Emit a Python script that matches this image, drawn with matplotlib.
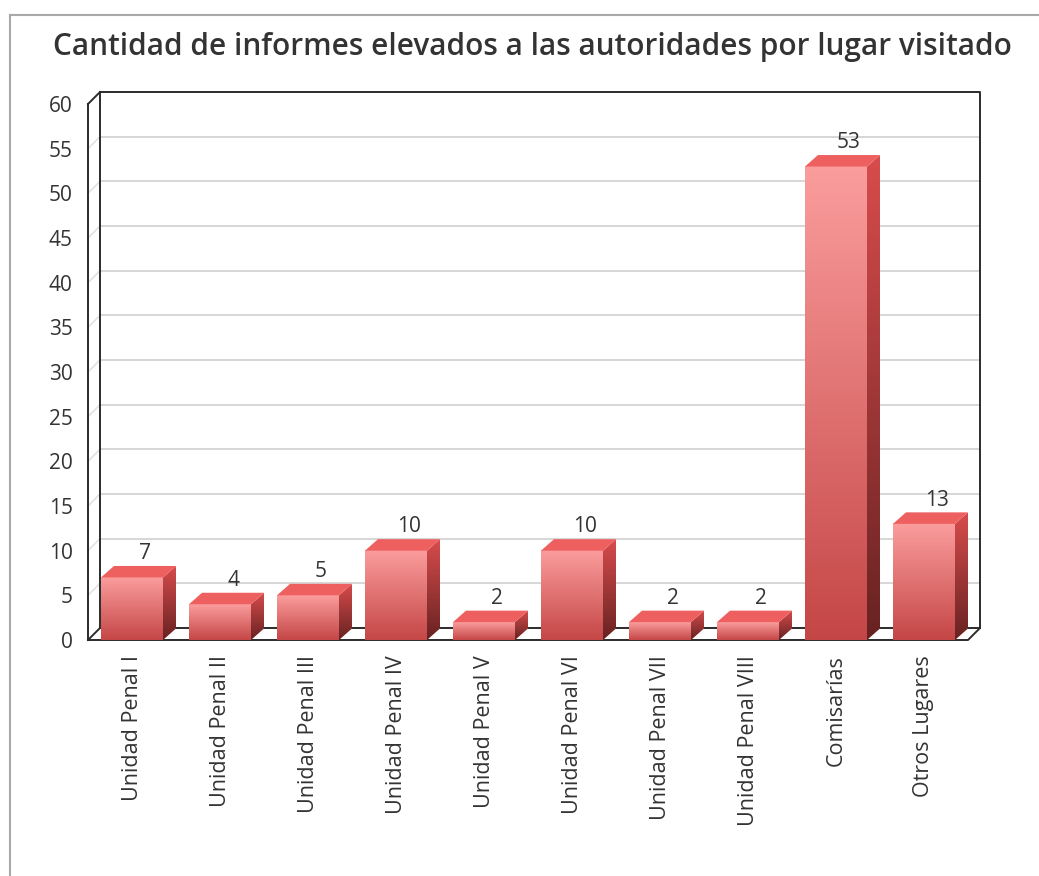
import numpy as np
import matplotlib.pyplot as plt
from matplotlib.patches import Polygon
from matplotlib.colors import LinearSegmentedColormap
from matplotlib.lines import Line2D

plt.rcParams['font.family'] = ['Open Sans', 'DejaVu Sans']

categories = ['Unidad Penal I', 'Unidad Penal II', 'Unidad Penal III', 'Unidad Penal IV',
              'Unidad Penal V', 'Unidad Penal VI', 'Unidad Penal VII', 'Unidad Penal VIII',
              'Comisarías', 'Otros Lugares']
values = [7, 4, 5, 10, 2, 10, 2, 2, 53, 13]
yticks = list(range(0, 61, 5))
title = 'Cantidad de informes elevados a las autoridades por lugar visitado'

W, H = 1039, 876
fig = plt.figure(figsize=(W / 100, H / 100), dpi=100)
# front plane of the plot area in pixels
left, right, bottom, top = 88, 968, 640, 104
ax = fig.add_axes([left / W, 1 - bottom / H, (right - left) / W, (bottom - top) / H])
ax.set_xlim(-0.5, len(categories) - 0.5)
ax.set_ylim(0, 60)
for s in ax.spines.values():
    s.set_visible(False)

px_x = (right - left) / len(categories)
px_y = (bottom - top) / 60
ddx, ddy = 12 / px_x, 12 / px_y       # depth of walls
bdx, bdy = 13 / px_x, 11.5 / px_y     # depth of bars
hw = 31 / px_x                        # half width of bar front

x0, x1 = -0.5, len(categories) - 0.5
line_kw = dict(color='#2b2b2b', lw=1.4, clip_on=False, zorder=3, solid_capstyle='projecting')

# grid on back wall + side wall
for y in yticks[1:-1]:
    ax.plot([x0 + ddx, x1 + ddx], [y + ddy, y + ddy], color='#d6d6d6', lw=1.4, clip_on=False, zorder=1)
    ax.plot([x0, x0 + ddx], [y, y + ddy], color='#e2e2e2', lw=1.2, clip_on=False, zorder=1)

# frame
ax.plot([x0, x0], [0, 60], **line_kw)
ax.plot([x0, x0 + ddx], [60, 60 + ddy], **line_kw)
ax.plot([x0 + ddx, x0 + ddx, x1 + ddx, x1 + ddx], [ddy, 60 + ddy, 60 + ddy, ddy], **line_kw)
ax.plot([x0, x1, x1 + ddx, x0 + ddx, x0], [0, 0, ddy, ddy, 0], **line_kw)

front_cmap = LinearSegmentedColormap.from_list('front', ['#c54646', '#fb9d9d'])
side_cmap = LinearSegmentedColormap.from_list('side', ['#672222', '#d84c4c'])
grad = np.linspace(0, 1, 256).reshape(-1, 1)

for i, v in enumerate(values):
    # front face
    ax.imshow(grad, cmap=front_cmap, origin='lower', aspect='auto',
              extent=[i - hw, i + hw, 0, v], zorder=4, clip_on=False, interpolation='bilinear')
    # side face
    side = Polygon([(i + hw, 0), (i + hw + bdx, bdy), (i + hw + bdx, v + bdy), (i + hw, v)],
                   closed=True, facecolor='none', edgecolor='none', transform=ax.transData)
    ax.add_patch(side)
    im = ax.imshow(grad, cmap=side_cmap, origin='lower', aspect='auto',
                   extent=[i + hw, i + hw + bdx, 0, v + bdy], zorder=4, interpolation='bilinear')
    im.set_clip_path(side)
    # top face
    ax.add_patch(Polygon([(i - hw, v), (i - hw + bdx, v + bdy), (i + hw + bdx, v + bdy), (i + hw, v)],
                         closed=True, facecolor='#ee5f5f', edgecolor='none', zorder=5, clip_on=False))
    ax.text(i + bdx, v + bdy + 0.2, str(v), ha='center', va='bottom', fontsize=15, color='#333333', zorder=6)

ax.set_xticks(range(len(categories)))
ax.set_xticklabels(categories, rotation=90, fontsize=15.5, color='#333333')
ax.set_yticks(yticks)
ax.set_yticklabels([str(t) for t in yticks], fontsize=15, color='#333333')
ax.tick_params(axis='x', length=0, pad=11)
ax.tick_params(axis='y', length=0, pad=11)

fig.text(532 / W, 1 - 47 / H, title, ha='center', va='center', fontsize=21.4,
         fontweight='semibold', color='#333333')

# outer border
fig.add_artist(Line2D([10 / W, 10 / W], [0, 1 - 15 / H], transform=fig.transFigure, color='#a8a8a8', lw=1.5))
fig.add_artist(Line2D([10 / W, 1], [1 - 15 / H, 1 - 15 / H], transform=fig.transFigure, color='#a8a8a8', lw=1.5))

fig.savefig('out.png', dpi=100)
